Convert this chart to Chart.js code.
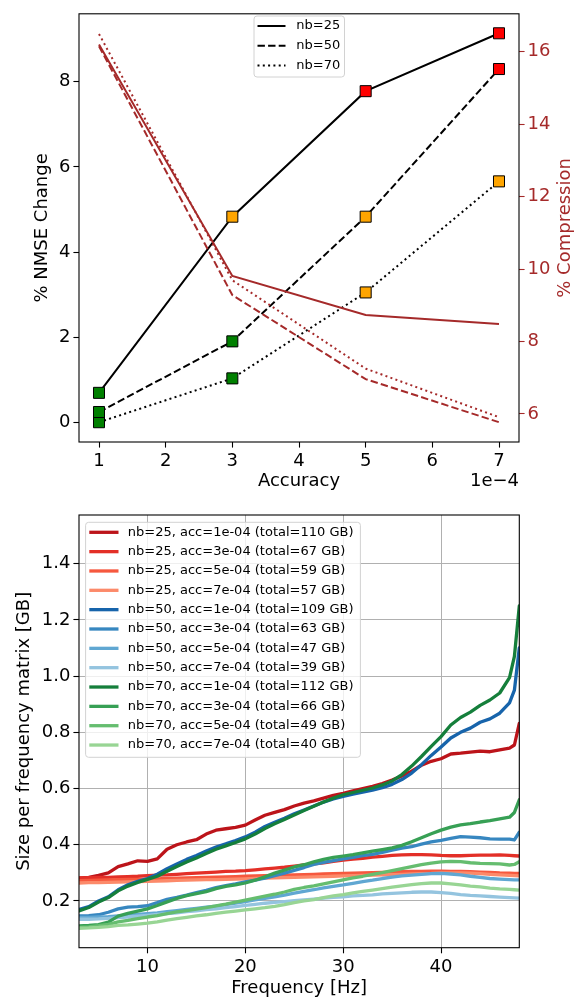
<!DOCTYPE html>
<html><head><meta charset="utf-8">
<script src="https://cdn.jsdelivr.net/npm/chart.js@4.4.1/dist/chart.umd.min.js"></script>
<style>
html,body{margin:0;padding:0;background:#fff;width:581px;height:999px;overflow:hidden}
canvas{position:absolute;left:0;display:block}
#c1{top:0}
#c2{top:500px}
</style></head><body>
<canvas id="c1" width="581" height="500"></canvas>
<canvas id="c2" width="581" height="499"></canvas>
<script>
// ---------------- top chart data ----------------
const accuracy = [1, 3, 5, 7];            // x 1e-4
const nmseNb25 = [0.69, 4.83, 7.78, 9.14];
const nmseNb50 = [0.24, 1.90, 4.83, 8.30];
const nmseNb70 = [0.00, 1.03, 3.05, 5.66];
const compNb25 = [16.20, 9.81, 8.73, 8.48];
const compNb50 = [16.15, 9.28, 6.96, 5.77];
const compNb70 = [16.49, 9.69, 7.25, 5.91];
const markerNb25 = ['#008000', '#ffa500', '#ff0000', '#ff0000'];
const markerNb50 = ['#008000', '#008000', '#ffa500', '#ff0000'];
const markerNb70 = ['#008000', '#008000', '#ffa500', '#ffa500'];
const topLegendLabels = ['nb=25', 'nb=50', 'nb=70'];
const topXTicks = [1, 2, 3, 4, 5, 6, 7];
const topLeftTicks = [0, 2, 4, 6, 8];
const topRightTicks = [6, 8, 10, 12, 14, 16];

// ---------------- bottom chart data ----------------
const freqHz = [3,4,5,6,7,8,9,10,11,12,13,14,15,16,17,18,19,20,21,22,23,24,25,26,27,28,29,30,31,32,33,34,35,36,37,38,39,40,41,42,43,44,45,46,47,47.5,48];
const nb25acc1 = [.281,.284,.291,.300,.322,.332,.343,.341,.350,.384,.400,.410,.418,.438,.452,.457,.462,.470,.488,.505,.515,.525,.538,.548,.556,.566,.576,.583,.592,.600,.608,.618,.630,.645,.662,.683,.697,.706,.723,.726,.730,.733,.731,.738,.744,.755,.832];
const nb25acc3 = [.282,.283,.284,.284,.286,.287,.288,.290,.292,.293,.295,.297,.299,.301,.303,.305,.306,.308,.311,.314,.317,.320,.324,.328,.332,.336,.341,.345,.349,.352,.356,.359,.362,.364,.365,.365,.364,.362,.361,.361,.362,.363,.363,.364,.362,.361,.360];
const nb25acc5 = [.272,.273,.274,.275,.276,.277,.277,.278,.279,.280,.281,.282,.283,.284,.285,.286,.287,.288,.289,.290,.291,.292,.293,.294,.295,.296,.297,.298,.299,.300,.301,.302,.303,.304,.305,.305,.306,.306,.305,.305,.304,.303,.302,.300,.299,.298,.298];
const nb25acc7 = [.264,.265,.265,.266,.267,.268,.269,.270,.271,.272,.273,.274,.275,.276,.276,.277,.278,.279,.280,.281,.282,.283,.284,.285,.286,.287,.288,.289,.290,.291,.292,.293,.294,.295,.296,.297,.298,.300,.300,.300,.299,.297,.295,.293,.291,.290,.289];
const nb50acc1 = [.170,.180,.200,.215,.240,.258,.270,.280,.295,.315,.332,.348,.362,.378,.392,.403,.415,.428,.445,.465,.480,.494,.510,.524,.538,.552,.563,.572,.580,.587,.594,.603,.615,.632,.655,.685,.718,.748,.780,.800,.815,.836,.848,.868,.905,.950,1.100];
const nb50acc3 = [.147,.148,.151,.160,.172,.178,.180,.183,.194,.206,.213,.221,.230,.238,.248,.255,.261,.268,.274,.281,.290,.299,.309,.319,.330,.337,.344,.350,.355,.361,.366,.373,.381,.388,.393,.402,.410,.416,.423,.429,.427,.425,.421,.420,.420,.417,.445];
const nb50acc5 = [.142,.142,.143,.144,.147,.149,.152,.155,.158,.162,.166,.170,.174,.178,.182,.187,.192,.198,.204,.209,.215,.221,.228,.234,.240,.247,.252,.257,.263,.269,.274,.280,.285,.289,.292,.295,.297,.298,.296,.293,.288,.284,.280,.278,.276,.275,.275];
const nb50acc7 = [.135,.135,.136,.138,.141,.143,.146,.149,.152,.155,.158,.162,.165,.169,.172,.176,.180,.184,.188,.192,.195,.198,.201,.204,.207,.210,.213,.215,.218,.220,.222,.225,.227,.229,.231,.232,.232,.230,.227,.223,.220,.218,.216,.214,.212,.211,.210];
const nb70acc1 = [.165,.177,.196,.212,.236,.253,.266,.277,.288,.306,.323,.339,.353,.369,.384,.396,.408,.421,.438,.458,.475,.490,.506,.522,.537,.552,.566,.578,.586,.594,.602,.613,.627,.650,.680,.714,.750,.785,.826,.853,.872,.896,.915,.940,.995,1.070,1.250];
const nb70acc3 = [.111,.113,.116,.125,.146,.156,.164,.172,.184,.197,.209,.219,.226,.233,.244,.252,.257,.264,.274,.286,.299,.310,.321,.329,.339,.348,.355,.360,.365,.371,.377,.383,.389,.398,.411,.425,.439,.452,.463,.471,.475,.481,.486,.492,.498,.515,.560];
const nb70acc5 = [.106,.108,.112,.117,.126,.131,.137,.143,.148,.155,.161,.166,.171,.176,.183,.189,.196,.203,.210,.217,.224,.232,.241,.248,.254,.261,.268,.275,.282,.288,.295,.301,.308,.315,.322,.329,.335,.339,.341,.340,.336,.334,.333,.332,.328,.330,.340];
const nb70acc7 = [.103,.104,.106,.109,.113,.115,.118,.121,.126,.132,.137,.142,.147,.151,.156,.160,.164,.168,.172,.176,.181,.187,.194,.200,.205,.212,.218,.223,.229,.234,.239,.244,.249,.254,.258,.262,.264,.264,.261,.257,.253,.250,.246,.243,.241,.240,.239];
const seriesLabels = [
  'nb=25, acc=1e-04 (total=110 GB)', 'nb=25, acc=3e-04 (total=67 GB)',
  'nb=25, acc=5e-04 (total=59 GB)',  'nb=25, acc=7e-04 (total=57 GB)',
  'nb=50, acc=1e-04 (total=109 GB)', 'nb=50, acc=3e-04 (total=63 GB)',
  'nb=50, acc=5e-04 (total=47 GB)',  'nb=50, acc=7e-04 (total=39 GB)',
  'nb=70, acc=1e-04 (total=112 GB)', 'nb=70, acc=3e-04 (total=66 GB)',
  'nb=70, acc=5e-04 (total=49 GB)',  'nb=70, acc=7e-04 (total=40 GB)'
];
const seriesValues = [nb25acc1, nb25acc3, nb25acc5, nb25acc7, nb50acc1, nb50acc3, nb50acc5, nb50acc7, nb70acc1, nb70acc3, nb70acc5, nb70acc7];
const seriesColors = ['#bc141a','#e32f27','#f6583e','#fc8a6a','#1764ab','#3787c0','#60a7d2','#94c4df','#157f3b','#37a055','#65bd6f','#98d594'];
const bottomXTicks = [10, 20, 30, 40];
const bottomYTicks = [0.2, 0.4, 0.6, 0.8, 1.0, 1.2, 1.4];

// ---------------- helpers ----------------
const FONT = 'DejaVu Sans';
Chart.defaults.font.family = FONT;
Chart.defaults.color = '#000';
const BROWN = '#a52a2a';

function xy(xs, ys) { return xs.map((x, i) => ({x: x, y: ys[i]})); }
function fixedTicks(list) { return function(scale) { scale.ticks = list.map(v => ({value: v})); }; }

function drawLegend(ctx, box, items) {
  ctx.save();
  const r = 3;
  ctx.beginPath();
  ctx.moveTo(box.x + r, box.y);
  ctx.arcTo(box.x + box.w, box.y, box.x + box.w, box.y + box.h, r);
  ctx.arcTo(box.x + box.w, box.y + box.h, box.x, box.y + box.h, r);
  ctx.arcTo(box.x, box.y + box.h, box.x, box.y, r);
  ctx.arcTo(box.x, box.y, box.x + box.w, box.y, r);
  ctx.closePath();
  ctx.fillStyle = 'rgba(255,255,255,0.8)';
  ctx.fill();
  ctx.strokeStyle = '#d2d2d2';
  ctx.lineWidth = 1;
  ctx.stroke();
  items.forEach((it, i) => {
    const y = box.row0 + i * box.gap;
    ctx.beginPath();
    ctx.setLineDash(it.dash || []);
    ctx.strokeStyle = it.color;
    ctx.lineWidth = it.width;
    ctx.lineCap = 'butt';
    ctx.moveTo(box.sx0, y);
    ctx.lineTo(box.sx1, y);
    ctx.stroke();
    ctx.setLineDash([]);
    ctx.fillStyle = '#000';
    ctx.font = box.font + 'px "' + FONT + '"';
    ctx.textAlign = 'left';
    ctx.textBaseline = 'middle';
    ctx.fillText(it.label, box.tx, y);
  });
  ctx.restore();
}

function frame(chart) {
  const a = chart.chartArea, ctx = chart.ctx;
  ctx.save();
  ctx.strokeStyle = '#000';
  ctx.lineWidth = 1.1;
  ctx.strokeRect(a.left, a.top, a.right - a.left, a.bottom - a.top);
  ctx.restore();
}

function tickGrid(color, onArea) {
  return {display: true, drawOnChartArea: onArea, drawTicks: true, tickLength: 5.6,
          tickWidth: 1.1, tickColor: color, color: '#b0b0b0', lineWidth: 1};
}

// ---------------- top chart ----------------
const topDatasets = [
  {label: topLegendLabels[0], data: xy(accuracy, nmseNb25), yAxisID: 'y', borderColor: '#000', borderWidth: 2,
   borderDash: [], pointStyle: 'rect', pointRadius: 7.8, pointHoverRadius: 7.8,
   pointBackgroundColor: markerNb25, pointBorderColor: '#000', pointBorderWidth: 1, order: 2},
  {label: topLegendLabels[1], data: xy(accuracy, nmseNb50), yAxisID: 'y', borderColor: '#000', borderWidth: 2,
   borderDash: [7.4, 3.2], pointStyle: 'rect', pointRadius: 7.8, pointHoverRadius: 7.8,
   pointBackgroundColor: markerNb50, pointBorderColor: '#000', pointBorderWidth: 1, order: 2},
  {label: topLegendLabels[2], data: xy(accuracy, nmseNb70), yAxisID: 'y', borderColor: '#000', borderWidth: 2,
   borderDash: [2, 3.3], pointStyle: 'rect', pointRadius: 7.8, pointHoverRadius: 7.8,
   pointBackgroundColor: markerNb70, pointBorderColor: '#000', pointBorderWidth: 1, order: 2},
  {label: 'comp nb=25', data: xy(accuracy, compNb25), yAxisID: 'y1', borderColor: BROWN, borderWidth: 2,
   borderDash: [], pointRadius: 0, order: 1},
  {label: 'comp nb=50', data: xy(accuracy, compNb50), yAxisID: 'y1', borderColor: BROWN, borderWidth: 2,
   borderDash: [7.4, 3.2], pointRadius: 0, order: 1},
  {label: 'comp nb=70', data: xy(accuracy, compNb70), yAxisID: 'y1', borderColor: BROWN, borderWidth: 2,
   borderDash: [2, 3.3], pointRadius: 0, order: 1}
];

const topPlugin = {
  id: 'topDecor',
  afterDraw(chart) {
    frame(chart);
    const ctx = chart.ctx, a = chart.chartArea;
    ctx.save();
    ctx.font = '18px "' + FONT + '"';
    ctx.fillStyle = '#000';
    ctx.textAlign = 'right';
    ctx.textBaseline = 'middle';
    ctx.fillText('1e\u22124', a.right, 481.7);
    ctx.translate(565, (a.top + a.bottom) / 2);
    ctx.rotate(-Math.PI / 2);
    ctx.textAlign = 'center';
    ctx.fillStyle = BROWN;
    ctx.fillText('% Compression', 0, 0);
    ctx.restore();
    const items = chart.data.datasets.slice(0, 3).map(d => ({label: d.label, color: d.borderColor, dash: d.borderDash, width: d.borderWidth}));
    drawLegend(ctx, {x: 254, y: 16, w: 90.5, h: 61, row0: 26, gap: 19.7, sx0: 257.5, sx1: 285.5, tx: 296.3, font: 13}, items);
  }
};

new Chart(document.getElementById('c1'), {
  type: 'line',
  data: {datasets: topDatasets},
  options: {
    responsive: false, animation: false, events: [],
    layout: {padding: {top: 9, left: 0, right: 0, bottom: 0}},
    plugins: {legend: {display: false}, tooltip: {enabled: false}},
    scales: {
      x: {type: 'linear', position: 'bottom', min: 0.7, max: 7.3,
          afterBuildTicks: fixedTicks(topXTicks),
          afterFit(s) { s.height = 58; },
          grid: tickGrid('#000', false), border: {display: false},
          ticks: {font: {size: 18}, color: '#000', padding: 3, maxRotation: 0, callback: v => String(v)},
          title: {display: true, text: 'Accuracy', font: {size: 18}, color: '#000', padding: {top: 0, bottom: 7.5}}},
      y: {type: 'linear', position: 'left', min: -0.465, max: 9.598,
          afterBuildTicks: fixedTicks(topLeftTicks),
          afterFit(s) { s.width = 79; },
          grid: tickGrid('#000', false), border: {display: false},
          ticks: {font: {size: 18}, color: '#000', padding: 3, callback: v => String(v)},
          title: {display: true, text: '% NMSE Change', font: {size: 18}, color: '#000', padding: {top: 31.8, bottom: 0}}},
      y1: {type: 'linear', position: 'right', min: 5.224, max: 17.046,
          afterBuildTicks: fixedTicks(topRightTicks),
          afterFit(s) { s.width = 62; },
          grid: tickGrid(BROWN, false), border: {display: false},
          ticks: {font: {size: 18}, color: BROWN, padding: 3, callback: v => String(v)},
          title: {display: false}}
    }
  },
  plugins: [topPlugin]
});

// ---------------- bottom chart ----------------
const N = seriesValues.length;
const bottomDatasets = seriesValues.map((vals, i) => ({
  label: seriesLabels[i], data: xy(freqHz, vals), borderColor: seriesColors[i],
  borderWidth: 3.3, pointRadius: 0, tension: 0, order: N - i, borderCapStyle: 'round', borderJoinStyle: 'round'
}));

const bottomPlugin = {
  id: 'bottomDecor',
  afterDraw(chart) {
    frame(chart);
    const items = chart.data.datasets.map(d => ({label: d.label, color: d.borderColor, width: 3.3}));
    drawLegend(chart.ctx, {x: 85.6, y: 22.3, w: 274.8, h: 235, row0: 32.3, gap: 19.34, sx0: 89.3, sx1: 118.5, tx: 127.8, font: 13}, items);
  }
};

new Chart(document.getElementById('c2'), {
  type: 'line',
  data: {datasets: bottomDatasets},
  options: {
    responsive: false, animation: false, events: [],
    layout: {padding: {top: 15, left: 0, right: 61.7, bottom: 0}},
    plugins: {legend: {display: false}, tooltip: {enabled: false}},
    scales: {
      x: {type: 'linear', position: 'bottom', min: 3, max: 48,
          afterBuildTicks: fixedTicks(bottomXTicks),
          afterFit(s) { s.height = 51.3; },
          grid: tickGrid('#000', true), border: {display: false},
          ticks: {font: {size: 18}, color: '#000', padding: 3, maxRotation: 0, callback: v => String(v)},
          title: {display: true, text: 'Frequency [Hz]', font: {size: 18}, color: '#000', padding: {top: 0, bottom: 0}}},
      y: {type: 'linear', position: 'left', min: 0.0338, max: 1.5733,
          afterBuildTicks: fixedTicks(bottomYTicks),
          afterFit(s) { s.width = 79; },
          grid: tickGrid('#000', true), border: {display: false},
          ticks: {font: {size: 18}, color: '#000', padding: 3, callback: v => v.toFixed(1)},
          title: {display: true, text: 'Size per frequency matrix [GB]', font: {size: 18}, color: '#000', padding: {top: 13.2, bottom: 0}}}
    }
  },
  plugins: [bottomPlugin]
});
</script>
</body></html>
